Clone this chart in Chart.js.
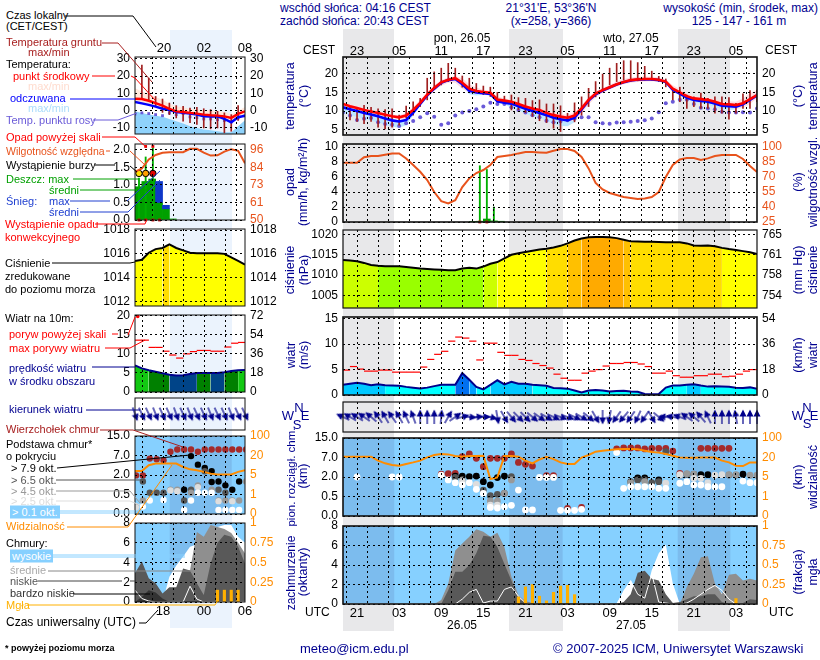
<!DOCTYPE html>
<html>
<head>
<meta charset="utf-8">
<title>Meteogram</title>
<script src="https://cdn.jsdelivr.net/npm/chart.js@4"></script>
<style>
    html, body { margin: 0; background: #fff; }
    #page { position: relative; width: 820px; height: 660px; overflow: hidden; font: 12px "Liberation Sans", Arial, sans-serif; }
    #page canvas { position: absolute; }
    .txt { position: absolute; white-space: nowrap; transform: translateY(-50%); line-height: 13px; }
    .rot { position: absolute; white-space: nowrap; transform: translate(-50%, -50%) rotate(-90deg); line-height: 13px; color: #000090; font-size: 12.5px; }
    .bg { position: absolute; }
    svg { position: absolute; left: 0; top: 0; }
</style>
</head>
<body>
<div id="page"></div>
<script>
// ---- main meteogram, hourly from 21:00 CEST
const tempMid = [11.9,11.3,10.8,10.3,9.9,9.5,9.0,8.6,8.3,8.8,10.3,12.2,14.4,16.2,17.7,18.4,18.8,17.6,16.0,15.4,15.1,14.9,13.1,12.8,12.5,11.9,11.2,10.7,10.3,9.5,8.9,8.5,8.2,8.8,10.7,13,14.7,15.6,16.4,17.2,17.8,18.3,18.5,18.6,18.6,18.4,17.9,16,15,14,13.4,13.2,13,12.5,11.9,11.8,11.6,12.1,13.2,14.3];
const tempHigh = [12.3,11.8,11.3,10.8,10.4,10,9.5,9.1,8.9,9.5,11,13,15,16.9,18.3,19,19.4,18.8,17.2,16.3,15.7,15.4,13.9,13.4,13,12.4,11.8,11.3,10.9,10.2,9.6,9.2,9,9.6,11.5,13.8,15.4,16.2,17,17.9,18.6,19,19.2,19.3,19.3,19,18.4,16.9,15.9,14.7,14,13.8,13.6,13.2,12.7,12.6,12.5,13.4,14.8,15.6];
const tempLow = [11.5,11,10.5,10,9.6,9.2,8.7,8.2,7.8,7.8,9.6,11.5,13.6,15.4,16.8,17.6,17.6,16,15,14.6,14.5,14.4,12.6,12.3,12,11.5,10.8,10.2,9.8,9,8.3,7.9,7.3,7.4,9.4,11.7,13.7,14.9,15.8,16.6,17.2,17.6,17.8,17.9,18,17.9,17.4,15.4,14.4,13.5,13,12.8,12.5,12,11.2,11,10.6,10.8,11.9,13.4];
const tempFeel = [11,10.5,10,9.5,9.1,8.6,8,7.5,7.2,7.6,9.6,11.9,14.2,16,17.6,18.3,18.6,17.2,15.4,15,14.8,14.6,12.6,12.2,12,11.3,10.6,10,9.5,8.9,8.2,7.8,7.5,8.2,10.4,12.8,14.5,15.5,16.3,17.1,17.7,18.2,18.4,18.5,18.5,18.3,17.8,15.7,14.7,13.6,13,12.7,12.5,12,11.4,11.3,11.2,11.8,13,14.2];
const feelLow = [9.5,9,8.4,8,7.4,6.9,6.3,5.8,5.5,6.2,8.8,11.5,13.9,15.8,17.5,18.1,18.3,16.6,14.5,14.2,14.4,14.2,12.2,11.8,10.9,10.2,9.3,8.7,8.1,7.4,6.5,6,5.9,7,9.8,12.5,14.3,15.3,16.1,16.9,17.5,18,18.2,18.3,18.3,18,17.4,15.2,14.2,13,12.4,12,11.8,11.1,10.5,10.3,10.5,11.4,12.8,14];
const dewPoint = [9.6,8.8,7.6,7.9,8.1,7,6.5,6.3,6,6.7,7.3,8.3,9.4,8.5,6.3,6.7,8.8,9.6,10,10.5,11.2,12.2,11.9,11.9,11,10.3,9.6,8.9,8.3,7.4,7,7.2,7.5,7.9,8.3,8.3,7,6.7,6.6,6.9,7,7.1,7.3,7.5,8,9.7,12.1,12.5,13,13,11.9,10.9,10.7,10.5,9.8,9.6,9.6,9.7,9.6,10.7];
const groundMax = [null,11.3,11,11.5,11,10.6,10.4,10.6,8.9,11.3,12.5,13.4,18.8,20.5,21.5,22.8,21.5,19.4,18.8,17.4,16.7,16.4,15,14,14.3,13.6,13.4,12.8,13,11.9,11.9,11.4,9.4,12.2,13.8,16.1,17.9,19.9,21.5,22.8,23.5,23.5,23,22,20.7,19.3,18.6,16,16.4,14.3,13.8,14.8,13.4,13.8,13.8,13.6,12.1,14.6,15.5,15.6];
const groundMin = [null,7.6,7.2,6.6,7.2,5.7,5.2,5.7,6.2,8.2,8.9,11.2,13,16,17,17.9,18.5,16.4,15.6,15.6,14.4,13.9,12.5,12.3,10.3,10.3,9.6,8.6,7.4,6.9,5.4,4.5,7.6,7.1,8.9,11.2,13.8,15.2,17,17.9,18.3,17.9,18.1,18.3,18.3,17.9,16.5,13,12.5,10.7,11.2,10.7,10.7,9.4,9.4,7.8,9.4,10.7,10.7,12.5];

const humidity = [84.3,84.3,84.3,89.7,91,91,92.3,93.6,93.6,88.6,82,75.2,66.9,55,45.8,43.5,46.8,60,68.6,74,77,82,90,91,92,93.6,95,95,94.6,94.3,96.3,98,98,96,90,78.6,64,57.5,54,52,50,49,48,48.5,50,55,70,82,87.6,89,89,87,88.6,91,92,92,92,88,81,75];
const rainMaxHours = [19.5,20.5,21.5];
const rainMaxValues = [7.5,7,2];
const rainMeanHours = [18.5,19.5,20.5,21.5,22.5];
const rainMeanValues = [0.05,0.1,0.4,0.15,0.1];
const convectiveHours = [19.5,20.5];

const pressure = [1013.7,1013.6,1013.4,1013,1012.5,1012.3,1012.2,1012.2,1012.2,1012,1011.8,1011.6,1011.5,1011.4,1011.3,1011.2,1011.2,1011.6,1011.8,1011.6,1012.1,1012.8,1013.2,1014.1,1015,1015.4,1015.7,1016,1016.3,1016.5,1016.8,1017.2,1017.8,1018.5,1019,1019.3,1019.4,1019.4,1019.3,1019.1,1018.7,1018.3,1018.25,1018.2,1018.2,1018.15,1018.1,1018.1,1018.1,1017.8,1017.3,1017.25,1017.3,1017.1,1016.7,1016.4,1016.2,1015.9,1015.6,1015.2];

const windMean = [2,2.2,2.4,2.2,1.9,2.1,1.9,1.85,1.8,1.6,1.45,1.3,1.45,1.75,2,2,2,4.3,3,1.6,1.1,2,2.9,2.1,2.6,2.2,2.2,2,1.9,1.8,1.4,1.35,1.25,0.9,0.5,0.9,1,0.9,0.7,0.8,0.85,0.7,0.65,0.2,0.15,0.2,1.45,1.85,1.85,2,2.1,1.85,1.65,1.7,1.65,1.6,1.45,1.4,1.5,1.25];
const windGust = [4.9,5.6,5.1,4.7,4.7,4.9,4.9,4.5,4.5,4.5,4.5,5.5,7,8,8.6,10.6,11.4,11.2,10.6,6.9,10.2,10.2,8.4,7.8,7.8,7,6.8,6.2,5.8,5.3,4.1,3.3,2.9,2.9,4.3,4.7,5,5.7,6.2,6.2,6.4,6.4,6.1,5.6,4.3,4.3,4.7,3.8,3.5,3.5,3.8,3.8,4.1,4.1,3.6,3.7,4.1,4.7,5];
const windDir = [-65,-60,-58,-55,-50,-35,-30,-35,-30,-25,-20,0,0,0,5,30,55,75,95,85,90,105,170,150,140,135,135,130,125,120,115,110,110,115,120,130,150,180,190,215,220,215,205,215,150,130,-85,-80,-70,-55,-50,-40,-25,0,0,0,-10,0,0,0];

// cloud base and visibility are read as positions on the uneven axis (0 to 4 = tick number)
const baseTopHours = [14,15,16,17,18,19,20,21,22,23,24,25,26,27,29,30,32,34,39,40,41,42,43,44,45,46,47,48,51,52,53,54,55];
const baseTop = [2.14,2.17,2.19,3.04,3.18,2.96,2.53,2.96,2.96,2.96,3.18,2.75,2.65,2.56,2.07,2.07,0.39,0.44,3.44,3.49,3.49,3.49,3.44,3.47,3.47,3.47,3.33,2.19,3.47,3.47,3.47,3.47,3.47];
const base79Hours = [16,17,18,19,20,21,22,23,42,43,45,51,52,57];
const base79 = [2.05,2.05,2.02,2.05,1.76,1.59,1.97,2.05,1.95,1.95,1.85,2.12,2.12,2.14];
const base65Hours = [16,20,21,22,23,24,41,42,43,44,45,46,49,50,55,56];
const base65 = [1.98,1.33,1.04,1.11,1.16,2.02,1.76,1.85,1.85,1.71,1.76,3.3,2.14,2.14,2.1,2.1];
const base45Hours = [17,21,22,23,24,41,43,48,49,50,55,56,58,59];
const base45 = [1.85,0.77,0.77,1.16,1.85,1.71,1.76,2.09,2.17,2.14,2.12,2.12,2.09,2.09];
const base25Hours = [17,19,21,22,46,48,50,51,52,53,54];
const base25 = [1.76,1.62,0.56,0.56,1.68,2.12,1.93,1.93,1.71,2.09,2.12];
const base01Hours = [2,7,8,14,15,16,17,18,19,20,21,22,23,24,25,26,27,28,29,30,31,32,33,34,39,40,41,42,43,44,45,46,48,49,50,51,52,53,54,57,58,59];
const base01 = [2,2,2,2.09,1.85,1.71,1.59,1.71,1.37,1.16,0.44,0.41,0.48,0.55,1.33,0.31,0.31,1.98,1.98,1.98,0.29,0.29,0.29,0.34,3.26,1.42,1.5,1.5,1.5,1.5,1.42,1.42,1.68,1.76,1.59,1.59,1.5,1.5,1.5,1.79,1.71,1.71];
const visibility = [3.04,3.04,3.04,3.04,3.04,2.84,2.7,2.62,2.58,2.67,2.75,2.84,3.01,3.13,3.18,3.16,3.08,3.04,3.08,3.08,3.09,1.9,1.98,3.08,3.08,3.04,2.84,2.7,2.9,3.04,2.92,2.75,2.67,2.67,3,3.13,3.3,3.35,3.38,3.42,3.44,3.44,3.42,3.35,3.28,3.25,3.18,3.09,3,2.99,2.99,3,3,3,2.84,2.75,2.58,2.56,2.75,2.75];

const cloudHigh = [0,0,0,0,0,0,0,0,0,0,0,0,0,0,0,0,0,0,0,0,0,0,0,0,0,0,0,0,0,0,0,0,0,0,0,0,0,0,0,0,1.4,2.4,1,0.7,3.45,5.2,6.1,2.1,0,0,0,0.2,1,1.9,1.1,0.4,0,0,0,0];
const cloudMid = [0,0,0,0,0,0,0,0,0,0,0,0,0,0,0.4,2.1,5.5,6.2,6.9,7.66,7.4,6.9,7.3,5.85,2.8,0.9,0.3,0.1,0,0,0.1,0.1,0.1,0.1,0,0,0,0,0,0,0.1,0.3,0.8,1,1.2,1,0.5,0.1,0,1.75,3.1,4.8,4.9,2.1,1,3,3.1,2.4,2.6,2.4];
const cloudLow = [0,0,0,0,0,0,0,0,0,0,0,0,0,0,0,1.4,3.3,3.3,4,5.2,7,6.9,5.85,4.1,2.4,0.5,0.2,0.05,0,0,0,0,0,0,0,0,0,0,0,0,0.2,1,3.2,3.4,2.6,2.4,1,0.1,0.2,0.5,0.8,0.8,1,1,0.2,0,0,0.1,0.5,0.4];
const cloudLine = [0,0,0,0,0,0,0,0,0,0,0,0,0,0,0,0,0,0.5,1.2,1.5,0.1,0.3,0.3,1.5,1.75,0.8,0.1,0,0,0,0,0,0,0,0,0,0,0,0,0,1.2,2.4,1,0.6,3.1,0.2,0.1,0,0,0.1,0.5,1,1.5,1.9,1.4,0.5,0,0,0,0];
const fogHours = [25,26,27,28,29,30,31,32,33,56];
const fogValues = [0.09,0.22,0.25,0.1,0.04,0.15,0.23,0.24,0.12,0.07];

// ---- small key panels on the left, 17 samples
const keyTemp = [6.9,6.7,5.7,4.4,2.9,1,-0.4,-0.8,-1.3,-1.7,-2.3,-2.7,-2.9,-3.3,-4.2,-1.9,-0.4];
const keyTempHigh = [13,11.1,9.8,7.9,6.3,4,2.5,1.9,1,0.6,0.2,0.2,-0.4,-0.8,-2.3,0,2.1];
const keyFeel = [5,4.2,3.3,2.3,1.1,0.4,-0.8,-1.3,-1.7,-2.3,-3.3,-3.4,-3.3,-4.8,-6.7,-3.8,-2.9];
const keyFeelHigh = [-0.4,-1.3,-2.3,-2.9,-3.6,-4.8,-6.1,-7.5,-9,-10,-10.9,-11.3,-11.9,-12.5,-12.5,-9,-5.6];
const keyDew = [-2,-1.3,-1.7,-2.3,-2.9,-1.3,-2.3,-1.7,-3.6,-4,-4.8,-4.8,-5.2,-5.7,-6.5,-4.2,-3];
const keyGroundMax = [null,26.4,18.8,8.2,6.7,4.4,2.9,2.5,1.5,1.9,1.1,0.6,-0.4,-1.3,-2.3,2.9,null];
const keyGroundMin = [null,6.3,5.4,2.5,-1,-2.3,-4.2,-6.1,-7,-8,-10,-10.5,-10,-12.8,-11.9,-5.6,null];
const keyHumidity = [81.6,83.8,89.8,92.7,94.2,94.5,94.5,94.5,96.7,96.7,94.2,92.3,92.5,94.9,96.5,95.4,87.2];
const keyRainMean = [0.95,1.1,1.17,0.5,0.32,0.03];
const keyRainMaxHours = [0.58,1.55,2.6];
const keyRainMax = [1.2,1.8,2.05];
const keySnowHours = [3,4];
const keySnowFrom = [0.5,0.32];
const keySnowTo = [1.1,0.42];
const keyPressure = [1015.4,1015.5,1016.1,1016.4,1016.5,1016.8,1016.5,1016.3,1016.1,1016.05,1016.05,1016.05,1016.05,1016,1015.7,1015.4,1015.1];
const keyWind = [7,6.2,5.7,5.3,4.9,4.5,4.3,4.4,4.7,5,5,5,5,5.2,5.5,5.7,5.8];
const keyGust = [13.6,13.6,11.7,11.7,10.7,9.7,8.9,10,10.6,10.9,10.9,10.7,10.7,11.8,12.8,13];
const keyDir = [160,155,155,158,155,155,160,155,158,155,155,158,155,155,158,155,155];
const keyBaseTop = [1.98,1.98,2.84,2.81,2.76,3.19,3.31,3.31,3.31,3.19,3.31,3.31,3.31,3.31,3.31,3.31,3.31];
const keyBase79Hours = [7,8,9,10,11,11,12,13,14,15];
const keyBase79 = [1.24,2.97,2.53,2.36,2.2,1.64,1.67,1.47,1.24,1.67];
const keyBase65Hours = [1,2,3,4,7,8,10,12,13];
const keyBase65 = [1.67,1.09,1.09,1.09,0.69,1.24,2.19,1.24,1.09];
const keyBase45Hours = [0,1,5,6,8,9,11,12,13,14,15,16];
const keyBase45 = [0.38,0.69,1.24,1.24,1.09,1.47,1.24,0.69,0.69,0.69,0.69,1.67];
const keyBase25Hours = [0,5,6,9,12,14];
const keyBase25 = [0.34,1.21,1.17,1.38,0.66,0.66];
const keyBase01Hours = [1,2,4,7,8,9,10,11,12,13,14,15];
const keyBase01 = [0.38,0.69,0.72,0.21,0.69,1.09,1.09,1.09,0.21,0.21,0.21,0.21];
const keyVisibility = [2.2,2.2,2.5,2.59,2.59,2.59,2.59,2.41,2.29,2.24,2.16,2.07,2.02,2.02,2.03,2.16,2.24];
const keyCloudHigh = [0,0,0,0,0,2.55,3.7,4.6,5.6,5.85,6.5,7.7,7.6,7.8,7.8,6.6,6];
const keyCloudMid = [0,0,0,0,0,0,0,3.2,3.2,7.1,6.6,7.8,7.6,7.4,7,6,4.9];
const keyCloudLow = [2.9,4.1,2.4,1.9,0.85,1.5,1.5,3.4,3.2,1.9,0.7,3.9,6,6.8,6.6,5.6,3.9];
const keyCloudVeryLow = [0,0.5,1.2,0.95,0.35,0,0,0,0,0,0,0,0,0,0,0,0];
const keyCloudLine = [1.2,0.35,0.1,0,0,0,0,0,1.6,0.3,0,0,0,0,0,0,0];
const keyFogHours = [12,13,14,15];
const keyFogValues = [0.15,0.15,0.15,0.15];

// ---- tick labels
const topHourLabels = ['23','05','11','17','23','05','11','17','23','05'];
const utcHourLabels = ['21','03','09','15','21','03','09','15','21','03'];
const baseLabels = ['0.0','0.5','2.0','7.0','15.0'];
const visLabels = ['0','1','5','20','100'];

// ---- page geometry
const LABEL_W = 38, PAD = 14;
const mainX0 = 343, mainX1 = 757, keyX0 = 135, keyX1 = 245;
const mainHour = h => mainX0 + h * (mainX1 - mainX0) / 59;
const keyHour = h => keyX0 + h * (keyX1 - keyX0) / 16;

const mainGrid = [], mainNight = [[0, 7.3], [23.7, 31.3], [47.7, 55.2]];
for (let h = 2; h < 59; h += 3) mainGrid.push(h);
const keyGrid = [1.07, 4.1, 7.1, 10.1, 13.2], keyZone = [[5.05, 14.07]];

const FONT = { family: '"Liberation Sans", Arial, sans-serif', size: 12 };
const page = document.getElementById('page');

const framePlugin = {
    id: 'frame',
    beforeDatasetsDraw(chart, args, opts) {
        if (!opts.fill) return;
        const { ctx, chartArea: a, scales: { x } } = chart;
        ctx.save();
        ctx.fillStyle = opts.fill;
        ctx.fillRect(a.left, a.top, a.width, a.height);
        ctx.fillStyle = opts.bandFill;
        (opts.bands || []).forEach(b => {
            const l = x.getPixelForValue(b[0]), r = x.getPixelForValue(b[1]);
            ctx.fillRect(l, a.top, r - l, a.height);
        });
        ctx.restore();
    },
    afterDraw(chart, args, opts) {
        const { ctx, chartArea: a } = chart;
        ctx.save();
        ctx.strokeStyle = '#111';
        ctx.lineWidth = opts.lineWidth || 1;
        ctx.strokeRect(a.left, a.top, a.width, a.height);
        ctx.restore();
    }
};

function yAxis(spec, position) {
    const labels = spec.labels || spec.ticks.map(String);
    return {
        type: 'linear', position, min: spec.min, max: spec.max,
        afterFit: s => { s.width = LABEL_W; },
        afterBuildTicks: s => { s.ticks = spec.ticks.map(value => ({ value })); },
        grid: { display: position === 'left' && spec.ticks.length > 0, color: '#000', z: 1, drawTicks: false },
        border: { display: false, dash: [2, 3] },
        ticks: {
            display: spec.ticks.length > 0, autoSkip: false, padding: 5, font: FONT,
            color: spec.color || '#000', callback: (v, i) => labels[i]
        }
    };
}

function panel(x0, x1, y0, y1, gridAt, left, right, datasets, frame) {
    const canvas = document.createElement('canvas');
    canvas.width = x1 - x0 + 2 * LABEL_W;
    canvas.height = y1 - y0 + 2 * PAD;
    canvas.style.left = (x0 - LABEL_W) + 'px';
    canvas.style.top = (y0 - PAD) + 'px';
    page.appendChild(canvas);
    new Chart(canvas, {
        type: 'line',
        data: { datasets },
        plugins: [framePlugin],
        options: {
            responsive: false, animation: false, events: [],
            layout: { autoPadding: false, padding: { top: PAD, bottom: PAD, left: 0, right: 0 } },
            plugins: { legend: { display: false }, tooltip: { enabled: false }, frame: frame || {} },
            elements: { point: { radius: 0 }, line: { tension: 0 } },
            scales: {
                x: {
                    type: 'linear', offset: false,
                    min: 0, max: x0 === keyX0 ? 16 : 59,
                    afterFit: s => { s.height = 0; },
                    afterBuildTicks: s => { s.ticks = gridAt.map(value => ({ value })); },
                    grid: { color: '#000', z: 1, drawTicks: false },
                    border: { display: false, dash: [2, 3] },
                    ticks: { display: false, autoSkip: false }
                },
                y: yAxis(left, 'left'),
                yr: yAxis(right, 'right')
            }
        }
    });
}

// ---- dataset helpers
const series = values => values.map((y, x) => ({ x, y }));
const shifted = (values, dx) => values.map((y, i) => ({ x: i + dx, y }));
const pairs = (xs, ys) => xs.map((x, i) => ({ x, y: ys[i] }));
const line = (data, color, width, extra) => Object.assign({ data, borderColor: color, borderWidth: width, pointRadius: 0, fill: false }, extra);
const area = (data, color, fill, extra) => Object.assign({ data, borderWidth: 0, borderColor: 'transparent', backgroundColor: color, pointRadius: 0, fill: fill === undefined ? 'origin' : fill }, extra);
const dots = (data, color, radius, style, extra) => Object.assign({ data, showLine: false, pointRadius: radius, pointStyle: style || 'circle', pointBackgroundColor: color, pointBorderColor: color, pointBorderWidth: 0 }, extra);
const bars = (data, color, thickness, extra) => Object.assign({ type: 'bar', data, backgroundColor: color, barThickness: thickness, grouped: false, borderWidth: 0 }, extra);
const stems = (xs, lows, highs) => xs.map((x, i) => ({ x, y: [lows[i], highs[i]] })).filter(d => d.y[0] !== null);
const gusts = (values, color) => dots(shifted(values, 0.5), color, 3.6, 'line', { pointBorderWidth: 1.2, pointBorderColor: color });

function arrowImage(color) {
    const c = document.createElement('canvas');
    c.width = c.height = 18;
    const g = c.getContext('2d');
    g.strokeStyle = g.fillStyle = color;
    g.lineWidth = 1.2;
    g.beginPath(); g.moveTo(9, 16); g.lineTo(9, 5); g.stroke();
    g.beginPath(); g.moveTo(9, 1.5); g.lineTo(12.5, 8.5); g.lineTo(5.5, 8.5); g.closePath(); g.fill();
    return c;
}
const arrows = (dirs) => dots(series(dirs.map(() => 0)), '#000090', 5, arrowImage('#00008c'), { pointRotation: dirs, clip: false });

const RED = '#ff0000', BLUE = '#0000ff', BROWN = '#a01f1f', PINK = '#ffdce0', ICE = '#bde6ff', DEW = '#6a5ad8', RH = '#e8531c';
const ORANGE = '#ff8c00', SKY = '#86d0ff', SKY_DARK = '#7cbcee', NAVY = '#000090';
const HIGH = '#ffffff', MID = '#8f8f8f', LOW = '#595959', VLOW = '#333333', FOG = '#ffb000';

function pressureShade(ctx) {
    const p = Math.max(pressure[ctx.p0DataIndex], pressure[ctx.p1DataIndex]);
    if (p < 1012.4) return '#99ff00';
    if (p < 1014.1) return '#ccff00';
    if (p < 1016.8) return '#ffff00';
    if (p < 1018.35) return '#ffdd00';
    if (p < 1019.1) return '#ffc000';
    return '#ffaa00';
}
function windShade(ctx) {
    const v = Math.max(windMean[ctx.p0DataIndex], windMean[ctx.p1DataIndex]);
    if (v >= 3.5) return '#0070f0';
    if (v >= 2.95) return '#00a0ff';
    if (v >= 2.02) return '#00c8ff';
    return '#00ffff';
}
function keyWindShade(ctx) {
    const i = ctx.p0DataIndex;
    if (i < 2 || i >= 15) return '#12c812';
    if (i < 5 || (i >= 9 && i < 11) || (i >= 13 && i < 15)) return '#008000';
    return '#004488';
}

// ---- page bands behind the charts
function band(left, right, top, bottom, color) {
    const d = document.createElement('div');
    d.className = 'bg';
    d.style.cssText = `left:${left}px;width:${right - left}px;top:${top}px;height:${bottom - top}px;background:${color}`;
    page.appendChild(d);
}
mainNight.forEach(b => band(mainHour(b[0]), mainHour(b[1]), 29, 631, '#e8e8ea'));
keyZone.forEach(b => band(keyHour(b[0]), keyHour(b[1]), 30, 628, '#ebf3fd'));

// ---- main panels
const allHours = tempMid.map((v, i) => i);
panel(mainX0, mainX1, 57, 135, mainGrid,
    { min: 3.57, max: 24.5, ticks: [5, 10, 15, 20] },
    { min: 3.57, max: 24.5, ticks: [5, 10, 15, 20] },
    [
        line(series(tempMid), RED, 2.6),
        line(series(tempFeel), BLUE, 2.6),
        bars(stems(allHours, groundMin, groundMax), BROWN, 1),
        dots(series(dewPoint), DEW, 2),
        area(series(tempHigh), PINK, '+1'),
        area(series(tempLow), 'transparent', false),
        area(series(tempFeel), ICE, '+1'),
        area(series(feelLow), 'transparent', false)
    ], { lineWidth: 1.6 });

panel(mainX0, mainX1, 144, 222, mainGrid,
    { min: 0, max: 10.4, ticks: [0, 2, 4, 6, 8, 10] },
    { min: 25, max: 103, ticks: [25, 40, 55, 70, 85, 100], color: RH },
    [
        line(series(humidity), RH, 2, { yAxisID: 'yr' }),
        dots(pairs(convectiveHours, convectiveHours.map(() => 0)), '#d00000', 2, 'rect', { clip: false }),
        bars(pairs(rainMeanHours, rainMeanValues), '#00a000', 7),
        bars(pairs(rainMaxHours, rainMaxValues), '#00b000', 1.2)
    ], { lineWidth: 1.6 });

panel(mainX0, mainX1, 230, 308, mainGrid,
    { min: 1001.9, max: 1021.1, ticks: [1005, 1010, 1015, 1020] },
    { min: 1001.9, max: 1021.1, ticks: [1005, 1010, 1015, 1020], labels: ['754', '758', '761', '765'] },
    [
        line(series(pressure), '#000', 2),
        area(series(pressure), '#ffff00', 'start', { segment: { backgroundColor: pressureShade } })
    ], { lineWidth: 1.2 });

panel(mainX0, mainX1, 317, 395, mainGrid,
    { min: 0, max: 15.35, ticks: [0, 5, 10, 15] },
    { min: 0, max: 15.35, ticks: [0, 5, 10, 15], labels: ['0', '18', '36', '54'] },
    [
        gusts(windGust, RED),
        line(series(windMean), '#00008c', 2),
        area(series(windMean), '#00ffff', 'origin', { segment: { backgroundColor: windShade } })
    ], { lineWidth: 1.6 });

panel(mainX0, mainX1, 402, 432, mainGrid,
    { min: -1, max: 1, ticks: [] }, { min: -1, max: 1, ticks: [] },
    [arrows(windDir)], { lineWidth: 1.2 });

// the first dataset is painted last, so white bases sit over the dark red tops
panel(mainX0, mainX1, 438, 516, mainGrid,
    { min: 0, max: 4, ticks: [0, 1, 2, 3, 4], labels: baseLabels },
    { min: 0, max: 4, ticks: [0, 1, 2, 3, 4], labels: visLabels, color: ORANGE },
    [
        line(series(visibility), ORANGE, 2),
        dots(pairs(base01Hours, base01), '#fff', 3.4),
        dots(pairs(base25Hours, base25), '#ddd', 3.4),
        dots(pairs(base45Hours, base45), '#999', 3.4),
        dots(pairs(base65Hours, base65), '#555', 3.4),
        dots(pairs(base79Hours, base79), '#000', 3.4),
        dots(pairs(baseTopHours, baseTop), '#a52a2a', 3.4)
    ], { lineWidth: 1.6, fill: SKY, bandFill: SKY_DARK, bands: mainNight });

panel(mainX0, mainX1, 526, 604, mainGrid,
    { min: 0, max: 8, ticks: [0, 2, 4, 6, 8] },
    { min: 0, max: 1, ticks: [0, 0.25, 0.5, 0.75, 1], labels: ['0', '0.25', '0.5', '0.75', '1'], color: ORANGE },
    [
        bars(pairs(fogHours, fogValues), FOG, 2.5, { yAxisID: 'yr' }),
        line(series(cloudLine), '#fff', 1),
        area(series(cloudLow), LOW),
        area(series(cloudMid), MID),
        area(series(cloudHigh), HIGH)
    ], { lineWidth: 1.6, fill: SKY, bandFill: SKY_DARK, bands: mainNight });

// ---- key panels
const keyIdx = keyTemp.map((v, i) => i);
panel(keyX0, keyX1, 57, 134, keyGrid,
    { min: -13.5, max: 31, ticks: [-10, 0, 10, 20, 30] },
    { min: -13.5, max: 31, ticks: [-10, 0, 10, 20, 30] },
    [
        line(series(keyTemp), RED, 2.4),
        line(series(keyFeel), BLUE, 2.4),
        bars(stems(keyIdx, keyGroundMin, keyGroundMax), BROWN, 1),
        dots(series(keyDew), DEW, 2, 'rect'),
        area(series(keyTempHigh), '#ffe7dc', '+1'),
        area(series(keyFeel), 'transparent', false),
        area(series(keyFeelHigh), '#8fd2fb', 'start')
    ], { lineWidth: 1 });

panel(keyX0, keyX1, 144, 220, keyGrid,
    { min: 0, max: 2.17, ticks: [0, 0.5, 1, 1.5, 2], labels: ['0.0', '0.5', '1.0', '1.5', '2.0'] },
    { min: 50, max: 99.9, ticks: [50, 61.5, 73, 84.5, 96], labels: ['50', '61', '73', '84', '96'], color: RH },
    [
        line(series(keyHumidity), RH, 2, { yAxisID: 'yr' }),
        dots(pairs([0.58], [1.33]), '#ffe000', 3.2, 'circle', { pointBorderColor: '#000', pointBorderWidth: 1 }),
        dots(pairs([1.55], [1.33]), '#ffa000', 3.2, 'circle', { pointBorderColor: '#000', pointBorderWidth: 1 }),
        dots(pairs([2.6], [1.33]), '#e00000', 3.2, 'circle', { pointBorderColor: '#000', pointBorderWidth: 1 }),
        dots(pairs([1.55, 2.6], [2.1, 2.1]), '#e00000', 2, 'rect', { clip: false }),
        dots(pairs([0.58, 1.55, 2.6, 3.57], [0, 0, 0, 0]), '#d00000', 2, 'rect', { clip: false }),
        bars(pairs(keyRainMaxHours, keyRainMax), '#00b000', 1.2),
        bars(stems(keySnowHours.map(h => h + 0.5), keySnowFrom, keySnowTo), '#1038c8', 7),
        bars(shifted(keyRainMean, 0.5), '#00a000', 7)
    ], { lineWidth: 1 });

panel(keyX0, keyX1, 229, 306, keyGrid,
    { min: 1011.6, max: 1018.1, ticks: [1012, 1014, 1016, 1018] },
    { min: 1011.6, max: 1018.1, ticks: [1012, 1014, 1016, 1018] },
    [
        line(series(keyPressure), '#000', 2),
        area(series(keyPressure), '#ffff00', 'start', { segment: { backgroundColor: c => (c.p0DataIndex === 4 ? '#ffdd00' : '#ffff00') } })
    ], { lineWidth: 1 });

panel(keyX0, keyX1, 315, 392, keyGrid,
    { min: 0, max: 20.2, ticks: [0, 5, 10, 15, 20] },
    { min: 0, max: 20.2, ticks: [0, 5, 10, 15, 20], labels: ['0', '18', '36', '54', '72'] },
    [
        dots(pairs([0.4], [19.8]), RED, 1.8),
        gusts(keyGust, RED),
        line(series(keyWind), '#00008c', 2),
        area(series(keyWind), '#008000', 'origin', { segment: { backgroundColor: keyWindShade } })
    ], { lineWidth: 1 });

panel(keyX0, keyX1, 398, 430, keyGrid,
    { min: -1, max: 1, ticks: [] }, { min: -1, max: 1, ticks: [] },
    [arrows(keyDir)], { lineWidth: 1 });

panel(keyX0, keyX1, 436, 514, keyGrid,
    { min: 0, max: 4, ticks: [0, 1, 2, 3, 4], labels: baseLabels },
    { min: 0, max: 4, ticks: [0, 1, 2, 3, 4], labels: visLabels, color: ORANGE },
    [
        line(series(keyVisibility), ORANGE, 2),
        dots(pairs(keyBase01Hours.map(h => h + 0.15), keyBase01), '#fff', 3.2),
        dots(pairs(keyBase25Hours.map(h => h + 0.15), keyBase25), '#ddd', 3.2),
        dots(pairs(keyBase45Hours.map(h => h + 0.15), keyBase45), '#999', 3.2),
        dots(pairs(keyBase65Hours.map(h => h + 0.15), keyBase65), '#555', 3.2),
        dots(pairs(keyBase79Hours.map(h => h + 0.15), keyBase79), '#000', 3.2),
        dots(shifted(keyBaseTop, 0.15), '#a52a2a', 3.2)
    ], { lineWidth: 1, fill: SKY, bandFill: SKY_DARK, bands: keyZone });

panel(keyX0, keyX1, 523, 602, keyGrid,
    { min: 0, max: 8, ticks: [0, 2, 4, 6, 8] },
    { min: 0, max: 1, ticks: [0, 0.25, 0.5, 0.75, 1], labels: ['0', '0.25', '0.5', '0.75', '1'], color: ORANGE },
    [
        bars(pairs(keyFogHours, keyFogValues), FOG, 2.5, { yAxisID: 'yr' }),
        line(series(keyCloudLine), '#fff', 1),
        area(series(keyCloudVeryLow), VLOW),
        area(series(keyCloudLow), LOW),
        area(series(keyCloudMid), MID),
        area(series(keyCloudHigh), HIGH)
    ], { lineWidth: 1, fill: SKY, bandFill: SKY_DARK, bands: keyZone });

// ---- text
function text(x, y, str, color, opts) {
    const d = document.createElement('div');
    d.className = 'txt';
    d.textContent = str;
    d.style.left = x + 'px';
    d.style.top = y + 'px';
    d.style.color = color || '#000';
    Object.assign(d.style, opts || {});
    page.appendChild(d);
    return d;
}
const centre = { transform: 'translate(-50%, -50%)' };
const rightEdge = { transform: 'translate(-100%, -50%)' };
function rotated(x, y, str, size) {
    const d = document.createElement('div');
    d.className = 'rot';
    d.textContent = str;
    d.style.left = x + 'px';
    d.style.top = y + 'px';
    if (size) d.style.fontSize = size;
    page.appendChild(d);
}

const BRICK = '#a82020', SNOW = '#2040d0', GREEN = '#00a000', FOG_TXT = '#ffb000';
[
    [6, 15, 'Czas lokalny'], [6, 26, '(CET/CEST)'],
    [6, 42, 'Temperatura gruntu', BRICK], [28, 52, 'max/min', BRICK],
    [6, 64, 'Temperatura:'], [13, 76, 'punkt środkowy', RED], [28, 86, 'max/min', '#ffdccf'],
    [10, 98, 'odczuwana', BLUE], [28, 108, 'max/min', '#abdcfb'], [6, 120, 'Temp. punktu rosy', DEW],
    [6, 137, 'Opad powyżej skali', RED], [6, 165, 'Wystąpienie burzy'],
    [6, 179, 'Deszcz: max', GREEN], [49, 190, 'średni', GREEN],
    [6, 201, 'Śnieg:', SNOW], [49, 201, 'max', SNOW], [49, 212, 'średni', SNOW],
    [5, 224, 'Wystąpienie opadu', RED], [5, 237, 'konwekcyjnego', RED],
    [5, 263, 'Ciśnienie'], [5, 276, 'zredukowane'], [5, 289, 'do poziomu morza'],
    [5, 318, 'Wiatr na 10m:'], [9, 334, 'poryw powyżej skali', RED], [9, 348, 'max porywy wiatru', RED],
    [9, 368, 'prędkość wiatru', NAVY], [9, 381, 'w środku obszaru', NAVY], [9, 409, 'kierunek wiatru', NAVY],
    [6, 429, 'Wierzchołek chmur', BRICK], [6, 444, 'Podstawa chmur*'], [6, 456, 'o pokryciu'],
    [11, 468, '> 7.9 okt.'], [11, 480, '> 6.5 okt.', '#555'], [11, 491, '> 4.5 okt.', '#999'], [11, 501, '> 2.5 okt.', '#ddd'],
    [6, 526, 'Widzialność', ORANGE], [6, 543, 'Chmury:'], [10, 570, 'średnie', '#aaa'], [10, 581, 'niskie', '#555'], [10, 593, 'bardzo niskie', '#333'],
    [6, 605, 'Mgła', FOG_TXT]
].forEach(t => text(t[0], t[1], t[2], t[3], { fontSize: '11px' }));
text(6, 151, 'Wilgotność względna', RH, { fontSize: '10.5px' });

[[6, 622, 'Czas uniwersalny (UTC)'],
    [280, 8, 'wschód słońca: 04:16 CEST', NAVY], [280, 21, 'zachód słońca: 20:43 CEST', NAVY],
    [303, 50, 'CEST'], [765, 50, 'CEST'], [305, 612, 'UTC'], [769, 612, 'UTC']
].forEach(t => text(t[0], t[1], t[2], t[3]));

text(11, 512, '> 0.1 okt.', '#fff', { background: SKY, padding: '0 2px', marginLeft: '-1px', fontSize: '11px' });
text(11, 556, 'wysokie', '#fff', { background: SKY, padding: '0 2px', marginLeft: '-1px', fontSize: '11px' });
text(5, 648, '* powyżej poziomu morza', '#000', { fontSize: '9px', fontWeight: 'bold' });
text(300, 648, 'meteo@icm.edu.pl', NAVY, { fontSize: '13px' });
text(553, 648, '© 2007-2025 ICM, Uniwersytet Warszawski', NAVY, { fontSize: '13px' });
text(551, 8, "21°31'E, 53°36'N", NAVY, centre);
text(551, 21, '(x=258, y=366)', NAVY, centre);
text(818, 8, 'wysokość (min, środek, max)', NAVY, rightEdge);
text(739, 21, '125 - 147 - 161 m', NAVY, centre);
text(462, 38, 'pon, 26.05', '#000', centre);
text(631, 38, 'wto, 27.05', '#000', centre);
text(462, 625, '26.05', '#000', centre);
text(631, 625, '27.05', '#000', centre);

topHourLabels.forEach((s, i) => text(mainHour(2 + 6 * i), 50, s, '#000', Object.assign({ fontSize: '13px' }, centre)));
utcHourLabels.forEach((s, i) => text(mainHour(2 + 6 * i), 612, s, '#000', Object.assign({ fontSize: '13px' }, centre)));
[[164, 47, '20'], [204, 47, '02'], [245, 47, '08'], [163, 610, '18'], [204, 610, '00'], [245, 610, '06']]
    .forEach(t => text(t[0], t[1], t[2], '#000', Object.assign({ fontSize: '13px' }, centre)));

[
    [290, 96, 'temperatura'], [304, 96, '(°C)'], [290, 182, 'opad'], [303, 182, '(mm/h, kg/m²/h)'],
    [290, 270, 'ciśnienie'], [304, 270, '(hPa)'], [291, 355, 'wiatr'], [304, 355, '(m/s)'],
    [291, 477, 'pion. rozciągł. chm.', '11.5px'], [303, 476, '(km)'], [291, 573, 'zachmurzenie', '12px'], [303, 572, '(oktanty)'],
    [798, 96, '(°C)'], [813, 96, 'temperatura'], [798, 182, '(%)'], [813, 182, 'wilgotność wzgl.'],
    [798, 270, '(mm Hg)'], [813, 270, 'ciśnienie'], [798, 355, '(km/h)'], [813, 355, 'wiatr'],
    [798, 477, '(km)'], [813, 477, 'widzialność'], [798, 572, '(frakcja)'], [813, 572, 'mgła']
].forEach(t => rotated(t[0], t[1], t[2], t[3]));

[[288, 415, 'W'], [299, 407, 'N'], [297, 424, 'S'], [305, 415, 'E'], [798, 415, 'W'], [807, 407, 'N'], [807, 423, 'S'], [814, 415, 'E']]
    .forEach(t => text(t[0], t[1], t[2], NAVY, Object.assign({ fontSize: '13px' }, centre)));

// ---- leader lines from the key labels to the panels
const leaders = [
    ['#000', '65,16 133,16 156,47'], [BRICK, '102,43 118,43 152,82'],
    [RED, '92,76 115,76'], [RED, '131,76 135,78 155,100'], [BLUE, '70,99 135,99'], [DEW, '93,120 118,120 137,113'],
    [RED, '102,137 135,137 146,147'], [RH, '106,151 110,151'], [RH, '130,151 145,165'],
    ['#000', '95,165 115,165'], ['#000', '130,166 137,172'], [GREEN, '73,179 139,179'], [GREEN, '80,190 150,190'],
    [SNOW, '70,201 110,201'], [SNOW, '127,201 160,171'], [SNOW, '80,212 128,212 160,180'],
    [RED, '95,224 145,224 147,219'], ['#000', '52,263 130,263 135,262'],
    [RED, '112,334 118,334'], [RED, '128,335 135,317'], [RED, '105,348 130,348 145,340'],
    [NAVY, '92,367 135,367'], [NAVY, '86,410 140,410'], [BRICK, '100,430 133,430 183,447'],
    ['#000', '57,468 190,455'], ['#555', '56,480 143,480'], ['#999', '56,491 130,491 140,503'], ['#ddd', '56,501 130,501 140,505'],
    [SKY, '56,511 135,511'], [SKY, '56,513 135,513'], [ORANGE, '67,527 128,527 172,465'],
    [SKY, '52,555 185,555'], [SKY, '52,557 185,557'], ['#888', '48,571 193,571'], ['#444', '38,581 122,581'], ['#444', '130,581 135,581'],
    ['#000', '73,594 150,594'], [FOG_TXT, '27,605 215,605 218,600'], ['#000', '139,623 146,623 158,610']
];
const svg = document.createElementNS('http://www.w3.org/2000/svg', 'svg');
svg.setAttribute('width', 820);
svg.setAttribute('height', 660);
leaders.forEach(l => {
    const p = document.createElementNS('http://www.w3.org/2000/svg', 'polyline');
    p.setAttribute('points', l[1]);
    p.setAttribute('fill', 'none');
    p.setAttribute('stroke', l[0]);
    p.setAttribute('stroke-width', 1);
    svg.appendChild(p);
});
page.appendChild(svg);
</script>
</body>
</html>
